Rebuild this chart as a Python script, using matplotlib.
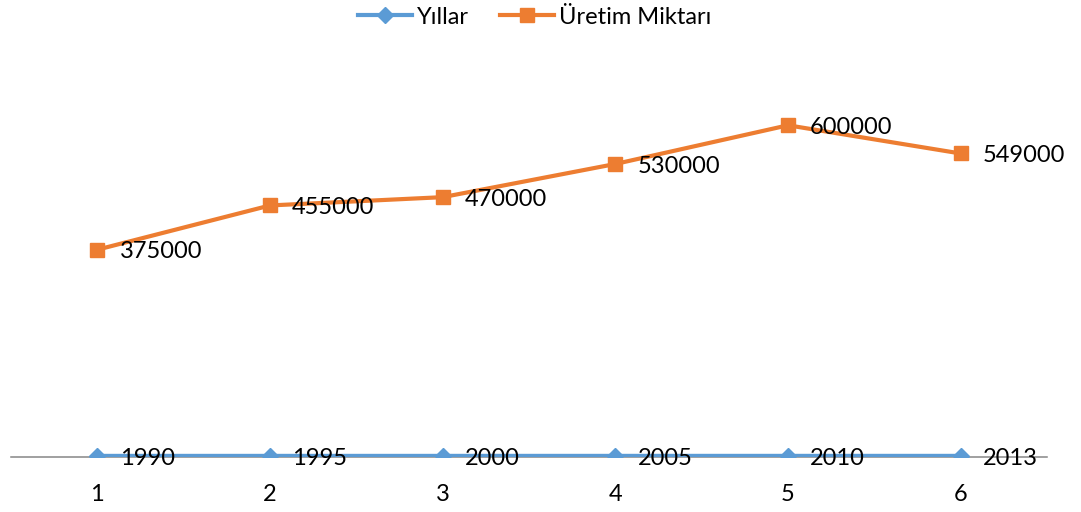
import matplotlib
matplotlib.use("Agg")
import matplotlib.pyplot as plt

plt.rcParams['font.family'] = ['Lato', 'DejaVu Sans']

categories = [1, 2, 3, 4, 5, 6]
yillar = [1990, 1995, 2000, 2005, 2010, 2013]
uretim = [375000, 455000, 470000, 530000, 600000, 549000]

BLUE = '#5B9BD5'
ORANGE = '#ED7D31'
FS = 17

fig = plt.figure(figsize=(10.81, 5.12), dpi=100)
ax = fig.add_axes([11/1081, 55/512, (1047-11)/1081, (457-70)/512])

x = list(range(len(categories)))
ax.plot(x, yillar, color=BLUE, lw=3, marker='D', ms=8.5, label='Yıllar', zorder=3)
ax.plot(x, uretim, color=ORANGE, lw=3, marker='s', ms=10.5, label='Üretim Miktarı', zorder=3)

for xi, v in zip(x, yillar):
    ax.annotate(str(v), (xi, v), xytext=(16, -2), textcoords='offset points',
                ha='left', va='center', fontsize=FS, color='black', zorder=4)
for xi, v in zip(x, uretim):
    ax.annotate(str(v), (xi, v), xytext=(16, -1.5), textcoords='offset points',
                ha='left', va='center', fontsize=FS, color='black', zorder=4)

ax.set_xlim(-0.5, len(categories) - 0.5)
ax.set_ylim(0, 700000)
ax.set_xticks(x)
ax.set_xticklabels([str(c) for c in categories], fontsize=FS)
ax.tick_params(axis='x', length=0, pad=19.5)
ax.set_yticks([])
for s in ['top', 'right', 'left']:
    ax.spines[s].set_visible(False)
ax.spines['bottom'].set_color('#868686')
ax.spines['bottom'].set_linewidth(1.1)
ax.spines['bottom'].set_zorder(1)

leg = fig.legend(loc='center', bbox_to_anchor=(0.5 - 6/1081, 1 - 17/512), ncol=2, frameon=False,
                 fontsize=FS, handlelength=2.3, handletextpad=0.2, columnspacing=1.3,
                 borderpad=0, borderaxespad=0)

fig.savefig('out.png', dpi=100)
